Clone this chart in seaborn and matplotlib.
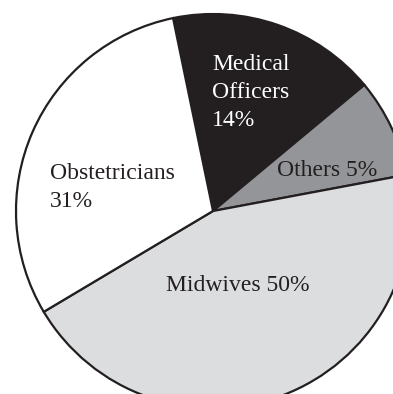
import matplotlib
matplotlib.use("Agg")
import matplotlib.pyplot as plt
import seaborn as sns

# Data (slice sizes as drawn, clockwise from the top; printed labels)
categories = ["Medical Officers", "Others", "Midwives", "Obstetricians"]
shares = [17.2, 8.1, 44.4, 30.3]
label_texts = ["Medical\nOfficers\n14%", "Others 5%", "Midwives 50%", "Obstetricians\n31%"]
colors = ["#231f20", "#939598", "#dcdddf", "#ffffff"]
text_colors = ["#ffffff", "#231f20", "#231f20", "#231f20"]

sns.set_theme(style="white")
plt.rcParams["font.family"] = ["Liberation Serif", "DejaVu Serif"]

fig = plt.figure(figsize=(3.93, 3.94), dpi=100)
ax = fig.add_axes([0, 0, 1, 1])
ax.pie(shares, colors=colors, startangle=101.7, counterclock=False,
       center=(213, 183), radius=197, frame=True,
       wedgeprops=dict(edgecolor="#231f20", linewidth=1.6))
ax.set_xlim(0, 393)
ax.set_ylim(0, 394)
ax.set_aspect("equal")
ax.axis("off")

# label anchor points (left edge, last-line baseline)
label_pos = [(212, 268), (277, 218), (166, 103), (50, 187)]
for txt, (x, y), c in zip(label_texts, label_pos, text_colors):
    ax.text(x, y, txt, ha="left", va="baseline", fontsize=17, color=c,
            linespacing=1.45)

fig.savefig("out.png", dpi=100)
